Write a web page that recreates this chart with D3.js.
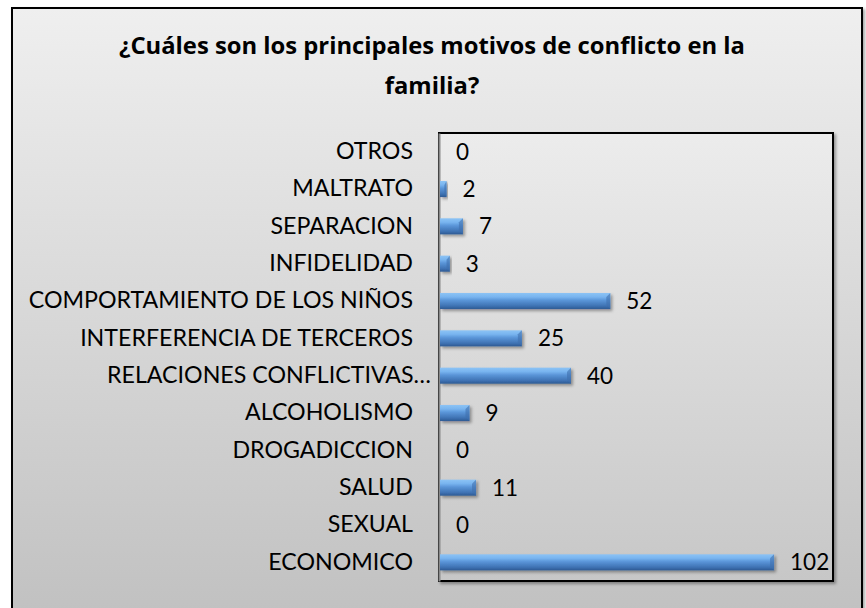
<!DOCTYPE html>
<html>
<head>
<meta charset="utf-8">
<script src="https://cdn.jsdelivr.net/npm/d3@7"></script>
<style>
  body { margin: 0; background: #ffffff; }
  svg { display: block; }
</style>
</head>
<body>
<svg id="chart" width="866" height="608"></svg>
<script>
// Data
const categories = [
  "OTROS", "MALTRATO", "SEPARACION", "INFIDELIDAD",
  "COMPORTAMIENTO DE LOS NIÑOS", "INTERFERENCIA DE TERCEROS",
  "RELACIONES CONFLICTIVAS…", "ALCOHOLISMO", "DROGADICCION",
  "SALUD", "SEXUAL", "ECONOMICO"
];
const values = [0, 2, 7, 3, 52, 25, 40, 9, 0, 11, 0, 102];
const titleLines = ["¿Cuáles son los principales motivos de conflicto en la", "familia?"];

const svg = d3.select("#chart");
const labelFont = "Lato, 'Open Sans', sans-serif";
const titleFont = "'Open Sans', Lato, sans-serif";

const defs = svg.append("defs");

// Outer background gradient
let bg = defs.append("linearGradient")
             .attr("id", "bgGrad")
             .attr("x1", 0).attr("y1", 0).attr("x2", 0).attr("y2", 1);
bg.append("stop").attr("offset", "0%").attr("stop-color", "#efefef");
bg.append("stop").attr("offset", "100%").attr("stop-color", "#c0c0c0");

// Plot area gradient
let pg = defs.append("linearGradient")
             .attr("id", "plotGrad")
             .attr("x1", 0).attr("y1", 0).attr("x2", 0).attr("y2", 1);
pg.append("stop").attr("offset", "0%").attr("stop-color", "#ececec");
pg.append("stop").attr("offset", "100%").attr("stop-color", "#c7c7c7");

// Bar gradient (bevel look)
let barGrad = defs.append("linearGradient")
             .attr("id", "barGrad")
             .attr("x1", 0).attr("y1", 0).attr("x2", 0).attr("y2", 1);
barGrad.append("stop").attr("offset", "0%").attr("stop-color", "#8cc3f5");
barGrad.append("stop").attr("offset", "25%").attr("stop-color", "#78b4ef");
barGrad.append("stop").attr("offset", "45%").attr("stop-color", "#5b96d9");
barGrad.append("stop").attr("offset", "80%").attr("stop-color", "#3f73b4");
barGrad.append("stop").attr("offset", "100%").attr("stop-color", "#2d5a93");

// Soft shadow
let shadow = defs.append("filter").attr("id", "shadow")
                 .attr("x", "-10%").attr("y", "-10%").attr("width", "130%").attr("height", "160%");
shadow.append("feDropShadow")
      .attr("dx", 2).attr("dy", 2).attr("stdDeviation", 1.5)
      .attr("flood-color", "#000").attr("flood-opacity", 0.35);

// Outer chart box (extends past the bottom edge)
svg.append("rect")
   .attr("x", 12).attr("y", 8)
   .attr("width", 850).attr("height", 620)
   .attr("fill", "url(#bgGrad)")
   .attr("stroke", "#000")
   .attr("stroke-width", 2)
   .attr("filter", "url(#shadow)");

// Title
svg.append("g")
   .selectAll("text")
   .data(titleLines)
   .join("text")
   .attr("x", 432)
   .attr("y", (d, i) => 54 + i * 40)
   .attr("text-anchor", "middle")
   .attr("font-family", titleFont)
   .attr("font-weight", "bold")
   .attr("font-size", 23.8)
   .attr("fill", "#000")
   .text(d => d);

// Plot area
const plot = {left: 439, top: 133, right: 833, bottom: 581};

svg.append("rect")
   .attr("x", plot.left).attr("y", plot.top)
   .attr("width", plot.right - plot.left)
   .attr("height", plot.bottom - plot.top)
   .attr("fill", "url(#plotGrad)")
   .attr("stroke", "#000")
   .attr("stroke-width", 2)
   .attr("filter", "url(#shadow)");

const x = d3.scaleLinear()
            .domain([0, 120])
            .range([plot.left + 1, plot.right]);

const y = d3.scaleBand()
            .domain(categories)
            .range([plot.top, plot.bottom])
            .paddingInner(0.57)
            .paddingOuter(0.285);

// Category axis
const yAxis = svg.append("g")
                 .attr("transform", `translate(${plot.left},0)`)
                 .call(d3.axisLeft(y).tickSize(0).tickPadding(26));

yAxis.select(".domain")
     .attr("stroke", "#8a8a8a")
     .attr("stroke-width", 2);

yAxis.selectAll("text")
     .attr("font-family", labelFont)
     .attr("font-size", 23.2)
     .attr("fill", "#000")
     // truncated label runs closer to the axis, like the original
     .attr("dx", d => d.endsWith("…") ? 18 : 0);

// Bars
const bars = svg.append("g");

bars.selectAll("rect")
    .data(values)
    .join("rect")
    .attr("x", x(0))
    .attr("y", (d, i) => y(categories[i]))
    .attr("width", d => x(d) - x(0))
    .attr("height", y.bandwidth())
    .attr("fill", "url(#barGrad)")
    .attr("filter", "url(#shadow)");

// Bevel on the end cap
bars.selectAll("path")
    .data(values.map((v, i) => ({v: v, i: i})).filter(d => d.v > 0))
    .join("path")
    .attr("d", d => {
      let x0 = x(0), x1 = x(d.v), y0 = y(categories[d.i]), h = y.bandwidth();
      let b = Math.min(4, (x1 - x0) / 3);
      return `M${x1 - b},${y0 + 4} L${x1},${y0} L${x1},${y0 + h} L${x1 - b},${y0 + h - 4} Z`;
    })
    .attr("fill", "#3f70ad")
    .attr("opacity", 0.6);

// Value labels
svg.append("g")
   .selectAll("text")
   .data(values)
   .join("text")
   .attr("x", d => x(d) + 16)
   .attr("y", (d, i) => y(categories[i]) + y.bandwidth() / 2)
   .attr("dy", "0.36em")
   .attr("font-family", labelFont)
   .attr("font-size", 22.5)
   .attr("fill", "#000")
   .text(d => d);
</script>
</body>
</html>
